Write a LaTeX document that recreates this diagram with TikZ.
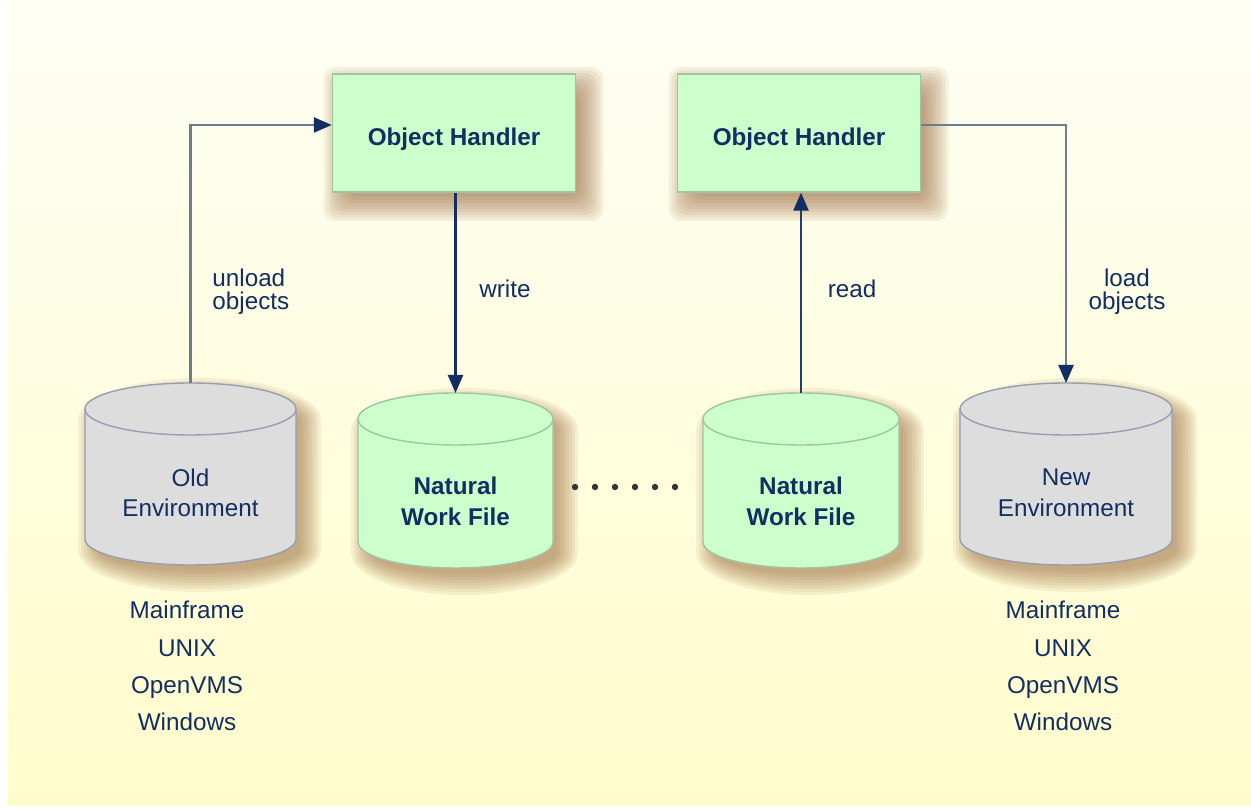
\documentclass[tikz,border=0pt]{standalone}
\usepackage{fontspec}
\setmainfont{Liberation Sans}
\usetikzlibrary{calc}
\usetikzlibrary{arrows.meta, shapes, positioning}
\definecolor{navy}{RGB}{18,46,98}
\definecolor{linegray}{RGB}{110,124,144}
\definecolor{boxgreen}{RGB}{204,255,204}
\definecolor{boxline}{RGB}{160,196,160}
\definecolor{cylgray}{RGB}{221,221,221}
\definecolor{cylline}{RGB}{150,158,176}
\definecolor{shadebrown}{RGB}{150,95,50}
\definecolor{bgtop}{RGB}{254,254,244}
\definecolor{bgmid}{RGB}{255,253,212}
\definecolor{bgbot}{RGB}{255,252,204}
\tikzset{>={Triangle[length=0.18cm, width=0.15cm, color=navy]}}
\tikzset{
  softshadow/.style={fill=shadebrown, opacity=0.085},
  handler/.style={draw=boxline, line width=0.4pt, fill=boxgreen, minimum width=2.43cm, minimum height=1.18cm, text height=8.6pt, text=navy, font=\fontsize{6.9}{8.5}\selectfont\bfseries},
  oldcyl/.style={draw=cylline, line width=0.4pt, fill=cylgray},
  nwfcyl/.style={draw=boxline, line width=0.4pt, fill=boxgreen},
  cyltext/.style={align=center, text=navy, font=\fontsize{6.9}{8.7}\selectfont},
  nwftext/.style={align=center, text=navy, font=\fontsize{6.9}{8.9}\selectfont\bfseries},
  listtext/.style={align=center, text=navy, font=\fontsize{6.9}{10.6}\selectfont},
  arrowtext/.style={align=center, text=navy, font=\fontsize{6.9}{6.6}\selectfont},
  conn/.style={->, draw=linegray, line width=0.7pt},
}

\begin{document}
\begin{tikzpicture}
    \useasboundingbox (0,0) rectangle (12.51,8.09);
    \fill[white] (0,0) rectangle (12.51,8.09);
    \shade[top color=bgtop, middle color=bgmid, bottom color=bgbot] (0.08,0.03) rectangle (12.51,8.09);

    % shadows
    \foreach \bx in {4.54,7.99}
        \foreach \r in {0.18,0.15,...,-0.06}
            \fill[softshadow, rounded corners=0.12cm] ({\bx-1.125-\r},{6.06-\r}) rectangle ({\bx+1.315+\r},{7.24+\r});
    \foreach \cx/\rx/\ty/\by in {1.905/1.055/4.00/2.70, 4.555/0.975/3.90/2.67, 8.01/0.98/3.90/2.67, 10.66/1.06/4.00/2.70}
        \foreach \r in {0.16,0.13,...,-0.06}
            \fill[softshadow] ({\cx+0.09-\rx-\r},{\ty-0.11}) -- ({\cx+0.09-\rx-\r},{\by-0.11})
                arc (180:360:{\rx+\r} and {0.26+\r}) -- ({\cx+0.09+\rx+\r},{\ty-0.11})
                arc (0:180:{\rx+\r} and {0.26+\r}) -- cycle;

    % object handlers
    \node[handler] (oh1) at (4.54,6.76) {Object Handler};
    \node[handler] (oh2) at (7.99,6.76) {Object Handler};

    % old environment
    \draw[oldcyl] (0.85,4.00)--(0.85,2.70) arc (180:360:1.055 and 0.26)--(2.96,4.00) arc (0:180:1.055 and 0.26)--cycle;
    \draw[cylline, line width=0.4pt] (0.85,4.00) arc (180:360:1.055 and 0.26);
    \coordinate (oldtop) at (1.905,4.26);
    \node[cyltext] (old) at (1.905,3.16) {Old\\Environment};
    \node[listtext] (oldlist) at (1.87,1.43) {Mainframe\\UNIX\\OpenVMS\\Windows};

    % natural work files
    \draw[nwfcyl] (3.58,3.90)--(3.58,2.67) arc (180:360:0.975 and 0.26)--(5.53,3.90) arc (0:180:0.975 and 0.26)--cycle;
    \draw[boxline, line width=0.4pt] (3.58,3.90) arc (180:360:0.975 and 0.26);
    \coordinate (nwf1top) at (4.555,4.16);
    \node[nwftext] (nwf1) at (4.555,3.08) {Natural\\Work File};

    \draw[nwfcyl] (7.03,3.90)--(7.03,2.67) arc (180:360:0.98 and 0.26)--(8.99,3.90) arc (0:180:0.98 and 0.26)--cycle;
    \draw[boxline, line width=0.4pt] (7.03,3.90) arc (180:360:0.98 and 0.26);
    \coordinate (nwf2top) at (8.01,4.16);
    \node[nwftext] (nwf2) at (8.01,3.08) {Natural\\Work File};

    % new environment
    \draw[oldcyl] (9.60,4.00)--(9.60,2.70) arc (180:360:1.06 and 0.26)--(11.72,4.00) arc (0:180:1.06 and 0.26)--cycle;
    \draw[cylline, line width=0.4pt] (9.60,4.00) arc (180:360:1.06 and 0.26);
    \coordinate (newtop) at (10.66,4.26);
    \node[cyltext] (new) at (10.66,3.16) {New\\Environment};
    \node[listtext] (newlist) at (10.63,1.43) {Mainframe\\UNIX\\OpenVMS\\Windows};

    \foreach \x in {5.75,5.95,...,6.80}
        \fill[black!80] (\x,3.22) circle (0.032);

    % connectors
    \draw[conn] (oldtop) |- ([yshift=0.08cm]oh1.west);
    \draw[conn, draw=navy] (nwf1top |- oh1.south) -- (nwf1top);
    \draw[conn, draw=navy!80!linegray] (nwf2top) -- (nwf2top |- oh2.south);
    \draw[conn] ([yshift=0.08cm]oh2.east) -| (newtop);

    \node[arrowtext, align=left, anchor=west] (unload) at (2.00,5.17) {unload\\objects};
    \node[arrowtext] (write) at (5.05,5.20) {write};
    \node[arrowtext] (read) at (8.52,5.20) {read};
    \node[arrowtext] (load) at (11.27,5.17) {load\\objects};
\end{tikzpicture}
\end{document}
